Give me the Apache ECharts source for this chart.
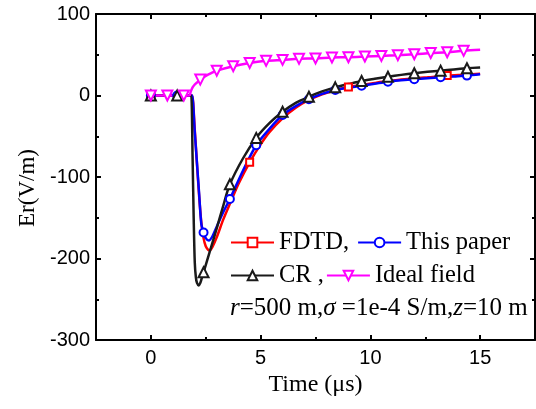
<!DOCTYPE html>
<html><head><meta charset="utf-8">
<script src="https://cdn.jsdelivr.net/npm/echarts@6/dist/echarts.min.js"></script>
<style>html,body{margin:0;padding:0;background:#fff}#c{width:536px;height:409px}</style>
</head><body><div id="c"></div>
<script>
// ---- tick labels ----
const xTicks = [0, 5, 10, 15];
const xMinorTicks = [2.5, 7.5, 12.5];
const yTicks = [-300, -200, -100, 0, 100];

// ---- FDTD (red, squares) ----
const fdtdT = [0, 1.5, 1.84, 1.88, 2.0, 2.1, 2.2, 2.3, 2.4, 2.5, 2.6, 2.68, 2.8, 3.0, 3.3, 3.63, 4.0, 4.5, 5.0, 5.4, 6.0, 6.6, 7.2, 7.8, 8.4, 9.0, 9.6, 10.2, 10.8, 11.4, 12.0, 12.6, 13.5, 14.4, 15];
const fdtdV = [0, 0, 0, 0, -42, -84, -124, -156, -175, -185, -189, -190, -186, -174, -152, -131, -108, -82, -60, -45, -28, -15, -5.5, 1.5, 6.5, 10.5, 13, 15.5, 17.8, 19.5, 21, 22.3, 24.5, 25.6, 26.8];
const fdtdMarks = [0, 4.5, 9.0, 13.5];

// ---- This paper (blue, circles) ----
const paperT = [0, 1.2, 1.84, 1.88, 2.0, 2.1, 2.2, 2.3, 2.4, 2.5, 2.64, 2.8, 3.0, 3.3, 3.6, 4.2, 4.8, 5.4, 6.0, 6.6, 7.2, 7.8, 8.4, 9.0, 9.6, 10.2, 10.8, 11.4, 12.0, 12.6, 13.2, 13.8, 14.4, 15];
const paperV = [0, 0, 0, 0, -45, -83, -121, -158, -168, -175, -178, -173, -161, -143, -127, -92, -61, -41, -24, -13, -4.5, 2, 6.8, 9.5, 12, 14.5, 17, 18.6, 20, 21.3, 22.4, 23.4, 24.4, 26];
const paperMarks = [0, 1.2, 2.4, 3.6, 4.8, 6.0, 7.2, 8.4, 9.6, 10.8, 12.0, 13.2, 14.4];

// ---- CR (black, up triangles) ----
const crT = [0, 1.2, 1.8, 1.84, 1.9, 1.95, 2.0, 2.05, 2.1, 2.18, 2.25, 2.32, 2.4, 2.7, 3.0, 3.3, 3.6, 4.2, 4.8, 5.4, 6.0, 6.6, 7.2, 7.8, 8.4, 9.0, 9.6, 10.2, 10.8, 11.4, 12.0, 12.6, 13.2, 13.8, 14.4, 15];
const crV = [0, 0, 0, 0, -75, -150, -205, -223, -230, -233, -230, -224, -217, -190, -163, -135, -109, -77, -52, -34, -20, -9, -1.5, 5, 10, 14, 17.8, 20.5, 23, 25.3, 27.3, 29, 30.5, 32, 33.4, 34.5];
const crMarks = [0, 1.2, 2.4, 3.6, 4.8, 6.0, 7.2, 8.4, 9.6, 10.8, 12.0, 13.2, 14.4];

// ---- Ideal field (magenta, down triangles) ----
const idealT = [0, 0.75, 1.5, 1.72, 1.76, 1.82, 1.9, 2.0, 2.1, 2.25, 2.5, 2.75, 3.0, 3.75, 4.5, 5.25, 6.0, 6.75, 7.5, 8.25, 9.0, 9.75, 10.5, 11.25, 12.0, 12.75, 13.5, 14.25, 15];
const idealV = [0, 0, 0, 0, 0, 5, 10, 13.5, 16, 19.5, 24, 27.5, 30.5, 36, 40, 42.5, 43.7, 45, 45.5, 46.5, 47, 47.8, 48.6, 49.5, 50.7, 52, 53, 54.8, 56];
const idealMarks = [0, 0.75, 1.5, 2.25, 3.0, 3.75, 4.5, 5.25, 6.0, 6.75, 7.5, 8.25, 9.0, 9.75, 10.5, 11.25, 12.0, 12.75, 13.5, 14.25];

function build(T, V, marks) {
  return T.map((t, i) => marks.indexOf(t) >= 0 ? [t, V[i]] : { value: [t, V[i]], symbol: 'none' });
}

const SERIF = '"Liberation Serif", "Times New Roman", serif';
const SANS = '"Liberation Sans", Arial, sans-serif';
const BLACK = '#000';

function lineSeries(name, data, color, symbol, size, rotate) {
  return {
    name, type: 'line', data, smooth: 0.3,
    symbol, symbolSize: size, symbolRotate: rotate || 0,
    lineStyle: { color, width: 2.5 },
    itemStyle: { color },
    emphasis: { disabled: true },
    z: 2
  };
}

function xAx(pos, ticks, len, showLine, showLabel) {
  return {
    type: 'value', position: pos, min: -2.5, max: 17.5, interval: 2.5,
    axisLine: { show: showLine, onZero: false, lineStyle: { color: BLACK, width: 2 } },
    axisTick: { show: true, inside: true, length: len, customValues: ticks, lineStyle: { color: BLACK, width: 2 } },
    axisLabel: showLabel ? { show: true, customValues: ticks, fontSize: 20, color: BLACK, fontFamily: SANS, margin: 8 } : { show: false },
    splitLine: { show: false }
  };
}
function yAx(pos, showLabel) {
  return {
    type: 'value', position: pos, min: yTicks[0], max: yTicks[yTicks.length - 1], interval: 100,
    axisLine: { show: true, onZero: false, lineStyle: { color: BLACK, width: 2 } },
    axisTick: { show: true, inside: true, length: 5, lineStyle: { color: BLACK, width: 2 } },
    minorTick: { show: true, splitNumber: 2, length: 3, lineStyle: { color: BLACK, width: 2 } },
    axisLabel: showLabel ? { show: true, fontSize: 20, color: BLACK, fontFamily: SANS, margin: 6 } : { show: false },
    splitLine: { show: false }, minorSplitLine: { show: false }
  };
}

const xMain = xAx('bottom', xTicks, 5, true, true);
xMain.name = 'Time (μs)';
xMain.nameLocation = 'middle';
xMain.nameGap = 31;
xMain.nameTextStyle = { fontFamily: SERIF, fontSize: 24, color: BLACK };
const yMain = yAx('left', true);
yMain.name = 'Er(V/m)';
yMain.nameLocation = 'middle';
yMain.nameGap = 57;
yMain.nameTextStyle = { fontFamily: SERIF, fontSize: 23, color: BLACK, padding: [0, 22, 0, 0] };

const legendBase = {
  orient: 'horizontal', itemWidth: 43, itemHeight: 12, selectedMode: false, padding: 0,
  textStyle: { fontFamily: SERIF, fontSize: 24.5, color: BLACK }
};

const chart = echarts.init(document.getElementById('c'), null, { renderer: 'canvas' });
chart.setOption({
  animation: false,
  backgroundColor: '#fff',
  grid: { left: 96, top: 14, width: 439, height: 326, containLabel: false },
  xAxis: [xMain, xAx('bottom', xMinorTicks, 3, false, false), xAx('top', xTicks, 5, true, false), xAx('top', xMinorTicks, 3, false, false)],
  yAxis: [yMain, yAx('right', false)],
  legend: [
    Object.assign({}, legendBase, { data: ['FDTD', 'This paper'], left: 230, top: 230, itemGap: 8,
      formatter: n => n === 'FDTD' ? 'FDTD,' : n }),
    Object.assign({}, legendBase, { data: ['CR', 'Ideal field'], left: 230, top: 263, itemGap: 2,
      formatter: n => n === 'CR' ? 'CR ,' : n })
  ],
  graphic: [{
    type: 'text', left: 230, top: 296,
    style: {
      text: '{i|r}=500 m,{i|σ} =1e-4 S/m,{i|z}=10 m',
      fill: BLACK, fontFamily: SERIF, fontSize: 25,
      rich: { i: { fontStyle: 'italic', fontFamily: SERIF, fontSize: 25, fill: BLACK } }
    }
  }],
  series: [
    lineSeries('FDTD', build(fdtdT, fdtdV, fdtdMarks), '#ff0000', 'emptyRect', 7),
    lineSeries('This paper', build(paperT, paperV, paperMarks), '#0000ff', 'emptyCircle', 8),
    lineSeries('CR', build(crT, crV, crMarks), '#1a1a1a', 'emptyTriangle', 10),
    lineSeries('Ideal field', build(idealT, idealV, idealMarks), '#ff00ff', 'emptyTriangle', 10, 180)
  ]
});
</script></body></html>
